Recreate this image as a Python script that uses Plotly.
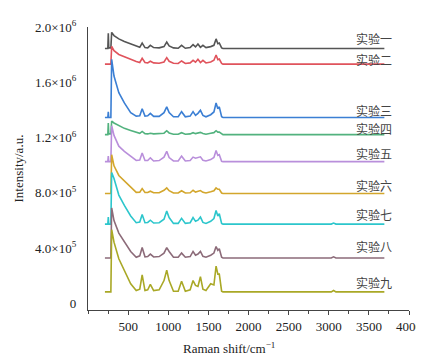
import numpy as np
import plotly.graph_objects as go

# Raman shift grid (cm^-1)
shift = [211, 247, 253, 259, 285, 295, 324, 384, 453, 532, 601, 645, 675, 710, 744, 777,
         818, 887, 947, 981, 1011, 1065, 1124, 1166, 1213, 1273, 1309, 1340, 1370, 1401,
         1432, 1470, 1529, 1569, 1596, 1618, 1636, 1665, 1682, 2883, 2922, 2962, 3031,
         3060, 3090, 3693]

names = ["实验一", "实验二", "实验三", "实验四", "实验五", "实验六", "实验七", "实验八", "实验九"]

# vertical offsets of each spectrum (x10^4 a.u.)
offsets = [184.4, 173.1, 134.5, 122.1, 102.5, 79.5, 57.3, 32.8, 8.2]

# relative intensities (x10^4 a.u.)
exp1 = [0, 0, 11.0, 0.5, 0.5, 11.7, 9.4, 7.0, 5.1, 3.3, 1.9, 0.9, 4.0, 0.7, 0.5, 2.3,
        0.7, 0.5, 1.4, 4.7, 1.9, 0.5, 0.2, 2.3, 0.2, 0.7, 2.8, 1.2, 3.3, 0.9,
        2.3, 0.7, 1.4, 2.3, 7.0, 3.5, 4.0, 0.5, 0, 0, 0, 0, 0, 0, 0, 0]
exp2 = [0, 0, 0, 0, 0, 12.9, 9.8, 7.0, 5.1, 3.5, 1.9, 1.2, 4.2, 1.2, 0.9, 2.1,
        0.9, 0.7, 1.6, 4.7, 2.1, 0.7, 0.5, 2.3, 0.5, 0.9, 2.8, 1.4, 3.5, 1.2,
        2.8, 0.9, 1.6, 2.8, 6.6, 3.3, 3.7, 0.5, 0, 0, 0, 0, 0, 0, 0, 0]
exp3 = [0, 0, 4.0, 0, 0, 42.1, 30.0, 18.0, 10.5, 3.5, 1.0, 1.2, 6.3, 1.0, 1.2, 3.0,
        0.8, 0.8, 3.5, 7.7, 3.5, 0.5, 0.5, 4.2, 0.5, 1.0, 4.2, 1.5, 3.0, 5.2,
        1.5, 0.5, 2.0, 4.0, 10.5, 6.3, 7.7, 0.5, 0, 0, 0, 0, 0, 0, 0, 0]
exp4 = [0, 0, 8.4, 0.5, 0.5, 9.8, 8.4, 6.6, 4.5, 3.0, 1.4, 0.9, 2.3, 0.7, 0.5, 1.0,
        0.5, 0.5, 1.0, 2.8, 1.2, 0.3, 0.3, 1.4, 0.3, 0.5, 1.4, 0.7, 1.2, 1.6,
        0.8, 0.3, 1.0, 1.4, 2.8, 1.8, 1.8, 0.3, 0, 0, 0, 0, 0, 0, 0, 0]
exp5 = [0, 0, 4.0, 0, 0, 26.0, 19.0, 11.2, 7.5, 3.7, 0.9, 1.2, 6.3, 0.8, 0.8, 2.8,
        0.5, 0.8, 3.3, 7.5, 3.0, 0.5, 0.5, 4.0, 0.5, 0.8, 3.3, 2.5, 2.8, 3.5,
        1.0, 0.5, 1.5, 3.0, 8.0, 4.5, 5.1, 0.3, 0, 0, 0, 0, 0, 0, 0, 0]
exp6 = [0, 0, 0, 0, 0, 28.0, 20.0, 13.0, 9.0, 4.5, 0.8, 0.9, 3.5, 0.7, 0.7, 1.6,
        0.5, 0.5, 2.3, 4.0, 2.0, 0.3, 0.3, 1.9, 0.3, 0.5, 2.3, 1.0, 1.6, 2.1,
        0.8, 0.3, 1.2, 1.9, 4.0, 3.0, 3.0, 0.3, 0, 0, 0, 0, 0, 0, 0, 0]
exp7 = [0, 0, 5.1, 0, 0, 37.4, 33.0, 21.0, 13.5, 5.9, 1.0, 1.5, 7.0, 1.0, 1.2, 2.8,
        0.8, 1.0, 3.5, 9.4, 4.7, 0.5, 0.5, 4.2, 0.5, 1.0, 4.7, 2.0, 2.8, 5.1,
        1.2, 0.5, 2.0, 4.0, 9.8, 5.9, 7.5, 0.5, 0, 0, 0.3, 0, 0, 0.7, 0, 0]
exp8 = [0, 0, 0, 0, 0, 36.2, 27.0, 18.0, 12.0, 4.7, 0.5, 1.5, 7.5, 0.8, 1.0, 2.8,
        0.7, 1.0, 3.5, 7.5, 4.7, 0.5, 0.5, 3.5, 0.5, 1.0, 4.7, 2.0, 2.8, 4.7,
        1.2, 0.5, 2.0, 3.5, 8.2, 5.5, 6.6, 0.5, 0, 0, 0.4, 0, 0, 0.8, 0, 0]
exp9 = [0, 0, 0, 0, 0, 45.0, 36.0, 24.0, 15.0, 5.9, 1.0, 2.0, 12.4, 1.0, 1.5, 5.4,
        1.0, 1.5, 8.2, 15.7, 8.2, 0.5, 0.5, 7.7, 0.5, 1.5, 8.2, 4.7, 4.0, 11.0,
        2.0, 1.0, 5.9, 5.0, 18.7, 12.9, 12.9, 0.5, 0, 0, 0.5, 0, 0, 1.0, 0, 0]

spectra = [exp1, exp2, exp3, exp4, exp5, exp6, exp7, exp8, exp9]

y_tickvals = [0, 4e5, 8e5, 1.2e6, 1.6e6, 2.0e6]
y_ticktext = ["0", "4.0×10<sup>5</sup>", "8.0×10<sup>5</sup>", "1.2×10<sup>6</sup>",
              "1.6×10<sup>6</sup>", "2.0×10<sup>6</sup>"]
x_tickvals = [500, 1000, 1500, 2000, 2500, 3000, 3500, 4000]

colors = ["#555555", "#e0535c", "#3b7fd4", "#52b27e", "#b98fdb",
          "#d3a62c", "#2cc6cc", "#8c6b79", "#a9a826"]
label_shift = [10, 5, 7, 6, 8, 8, 10, 11, 9]

serif = "Liberation Serif, Times New Roman, serif"
cjk = "Noto Sans CJK SC, sans-serif"

fig = go.Figure()
for name, col, off, rel, ys in zip(names, colors, offsets, spectra, label_shift):
    y = (off + np.array(rel)) * 1e4
    fig.add_trace(go.Scatter(x=shift, y=y, mode="lines", name=name,
                             line=dict(color=col, width=1.6), showlegend=False,
                             hoverinfo="skip"))
    fig.add_annotation(x=3560, y=off * 1e4, text=name, showarrow=False,
                       yshift=ys, xanchor="center", yanchor="middle",
                       font=dict(family=cjk, size=12, color="#444444"))

fig.add_annotation(xref="paper", yref="paper", x=-0.215, y=0.5,
                   text="Intensity/a.u.", textangle=-90, showarrow=False,
                   xanchor="center", yanchor="middle",
                   font=dict(family=serif, size=13, color="#222222"))
fig.add_annotation(xref="paper", yref="paper", x=0.44, y=-0.135,
                   text="Raman shift/cm<sup>−1</sup>", showarrow=False,
                   xanchor="center", yanchor="middle",
                   font=dict(family=serif, size=13, color="#222222"))

fig.update_layout(
    width=424, height=356,
    margin=dict(l=80, r=18, t=10, b=54),
    paper_bgcolor="white", plot_bgcolor="white",
    xaxis=dict(range=[0, 4000], showline=True, linecolor="#444444", linewidth=1.3,
               ticks="outside", ticklen=4, tickcolor="#444444", tickwidth=1.2,
               tickvals=x_tickvals, showgrid=False, zeroline=False,
               tickfont=dict(family=serif, size=13, color="#222222"),
               minor=dict(dtick=250, tick0=0, ticks="outside", ticklen=3,
                          tickcolor="#444444", showgrid=False)),
    yaxis=dict(range=[-4.9e4, 2.0e6], showline=True, linecolor="#444444", linewidth=1.3,
               ticks="", tickvals=y_tickvals, ticktext=y_ticktext,
               showgrid=False, zeroline=False, ticklabelstandoff=8,
               tickfont=dict(family=serif, size=13, color="#222222")),
)

fig.write_html("out.html")
